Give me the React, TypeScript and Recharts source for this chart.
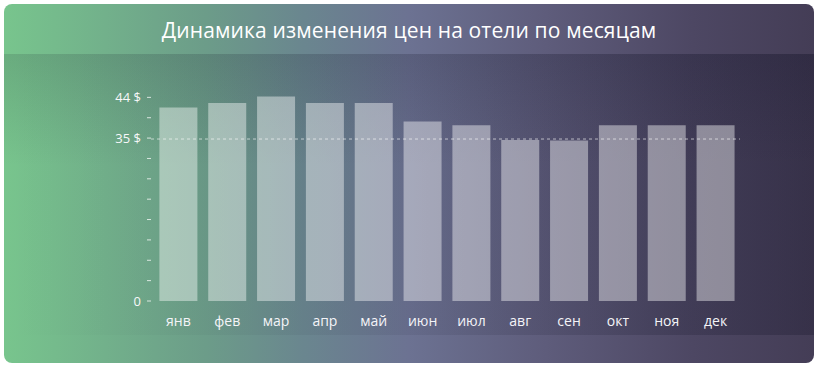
import { BarChart, Bar, XAxis, YAxis, ReferenceLine } from 'recharts';

const months = ['янв', 'фев', 'мар', 'апр', 'май', 'июн', 'июл', 'авг', 'сен', 'окт', 'ноя', 'дек'];
const prices = [41.8, 42.8, 44.2, 42.8, 42.8, 38.8, 38.0, 34.8, 34.7, 38.0, 38.0, 38.0];
const yTicks = [0, 4.4, 8.8, 13.2, 17.6, 22, 26.4, 30.8, 35.2, 39.6, 44];
const yTickLabels = ['0', '', '', '', '', '', '', '', '35 $', '', '44 $'];
const refPrice = 35;
const title = 'Динамика изменения цен на отели по месяцам';

const data = months.map((m, i) => ({ month: m, price: prices[i] }));

const FONT = '"Open Sans", Roboto, sans-serif';

function yLabel(v: number): string {
  const i = yTicks.indexOf(v);
  return i >= 0 ? yTickLabels[i] : '';
}

export default function App() {
  return (
    <div style={{ position: 'relative', width: 820, height: 366, background: '#fff' }}>
      <style>{'body{margin:0}'}</style>
      <div
        style={{
          position: 'absolute',
          left: 4,
          top: 4,
          width: 810,
          height: 359,
          borderRadius: 8,
          overflow: 'hidden',
          background:
            'linear-gradient(90deg, #78c58d 0%, #6c9c89 25%, #6a868f 37%, #6c7292 50%, #5e5c7b 67%, #4d4763 85%, #443d56 100%)',
        }}
      >
        <div
          style={{
            position: 'absolute',
            left: 0,
            top: 50,
            width: 810,
            height: 281,
            background:
              'linear-gradient(180deg, rgba(10,10,30,0.13) 0%, rgba(10,10,30,0) 40%), linear-gradient(90deg, rgba(10,10,30,0) 0%, rgba(10,10,30,0.07) 50%, rgba(10,10,30,0.23) 100%)',
          }}
        />
        <div
          style={{
            position: 'absolute',
            left: 0,
            top: 0,
            width: 810,
            height: 52,
            lineHeight: '52px',
            textAlign: 'center',
            color: '#fff',
            fontFamily: FONT,
            fontSize: 21,
            letterSpacing: 0.15,
          }}
        >
          {title}
        </div>
        <div style={{ position: 'absolute', left: 0, top: 0 }}>
          <BarChart
            width={810}
            height={358}
            data={data}
            margin={{ top: 73, right: 74, bottom: 31, left: 0 }}
            barCategoryGap={5.4}
          >
            <XAxis
              dataKey="month"
              axisLine={false}
              tickLine={false}
              tickSize={0}
              tickMargin={15}
              height={30}
              padding={{ left: 3, right: 0 }}
              tick={{ fill: '#f4f4f8', fontSize: 14, fontFamily: FONT }}
            />
            <YAxis
              domain={[0, 48.4]}
              ticks={yTicks}
              interval={0}
              width={147}
              axisLine={false}
              tickSize={4}
              tickMargin={6}
              tickLine={{ stroke: 'rgba(255,255,255,0.75)' }}
              tickFormatter={yLabel}
              tick={{ fill: '#f8f8fa', fontSize: 13, fontFamily: FONT }}
            />
            <ReferenceLine
              y={refPrice}
              stroke="rgba(255,255,255,0.6)"
              strokeDasharray="3 3"
            />
            <Bar dataKey="price" fill="rgba(255,255,255,0.42)" isAnimationActive={false} />
          </BarChart>
        </div>
      </div>
    </div>
  );
}
